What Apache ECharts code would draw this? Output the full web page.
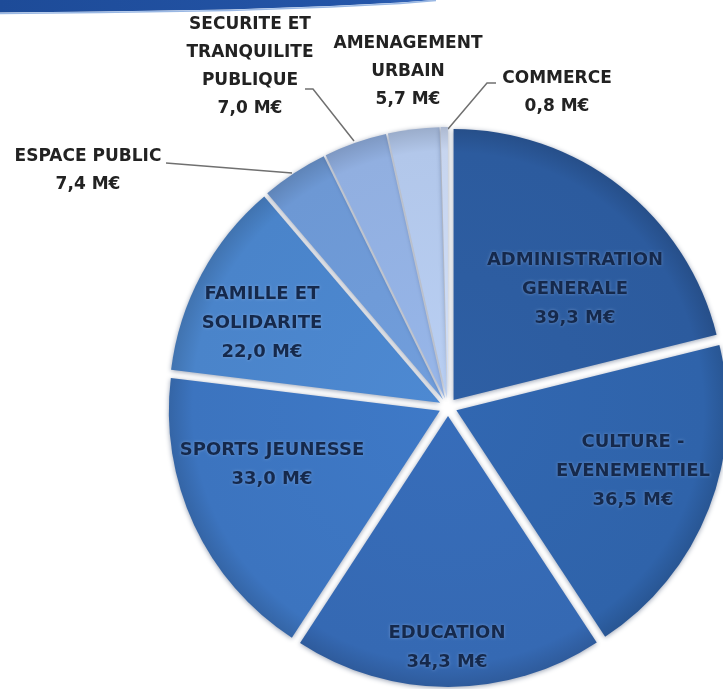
<!DOCTYPE html>
<html>
<head>
<meta charset="utf-8">
<script src="https://cdn.jsdelivr.net/npm/echarts@6/dist/echarts.min.js"></script>
<style>
  html, body { margin: 0; padding: 0; background: #ffffff; }
  #chart { width: 723px; height: 689px; }
</style>
</head>
<body>
<div id="chart"></div>
<script>
// Budget by sector (M€)
const categories = [
  'ADMINISTRATION GENERALE',
  'CULTURE - EVENEMENTIEL',
  'EDUCATION',
  'SPORTS JEUNESSE',
  'FAMILLE ET SOLIDARITE',
  'ESPACE PUBLIC',
  'SECURITE ET TRANQUILITE PUBLIQUE',
  'AMENAGEMENT URBAIN',
  'COMMERCE'
];
// label text with its line breaks
const labelNames = [
  'ADMINISTRATION\nGENERALE',
  'CULTURE -\nEVENEMENTIEL',
  'EDUCATION',
  'SPORTS JEUNESSE',
  'FAMILLE ET\nSOLIDARITE',
  'ESPACE PUBLIC',
  'SECURITE ET\nTRANQUILITE\nPUBLIQUE',
  'AMENAGEMENT\nURBAIN',
  'COMMERCE'
];
const values = [39.3, 36.5, 34.3, 33.0, 22.0, 7.4, 7.0, 5.7, 0.8];
const sliceColors = [
  '#2c5b9e', '#2f63aa', '#3569b3', '#3c74bf', '#4a84ca',
  '#6d98d4', '#91afe0', '#b2c7ea', '#c7d5ef'
];

const CX = 448, CY = 407, R = 271;
const INSIDE_COUNT = 5;

// label anchors (centre of each text block)
const labelAnchors = [
  [575, 289], [633, 471], [447, 648], [272, 465], [262, 323],
  [88, 171], [250, 67], [408, 72], [557, 93]
];
// leader lines: slice edge -> elbow -> label end
const leaderLines = {
  5: [[292, 173], [229, 168], [166, 163]],
  6: [[354, 141], [313, 89], [305, 89]],
  8: [[448, 129], [487, 83], [496, 83]]
};

function shade(hex, f) {
  const n = parseInt(hex.slice(1), 16);
  let r = (n >> 16) & 255, g = (n >> 8) & 255, b = n & 255;
  r = Math.round(r * f); g = Math.round(g * f); b = Math.round(b * f);
  const c = v => Math.max(0, Math.min(255, v)).toString(16).padStart(2, '0');
  return '#' + c(r) + c(g) + c(b);
}

function fmtValue(v) {
  return v.toFixed(1).replace('.', ',') + ' M€';
}

// exploded slices
const sliceData = values.map((v, i) => {
  const base = sliceColors[i];
  return {
    name: categories[i],
    value: v,
    selected: true,
    itemStyle: {
      color: {
        type: 'radial', x: CX, y: CY, r: R + 10, global: true,
        colorStops: [
          { offset: 0, color: shade(base, 1.04) },
          { offset: 0.88, color: base },
          { offset: 0.97, color: shade(base, 0.86) },
          { offset: 1, color: shade(base, 0.72) }
        ]
      }
    }
  };
});

// label carrier (same angles, no fill)
const labelData = values.map((v, i) => {
  const inside = i < INSIDE_COUNT;
  return {
    name: categories[i],
    value: v,
    label: inside ? {
      position: 'inside',
      color: '#15294c',
      fontSize: 18,
      lineHeight: 29,
      textShadowColor: 'rgba(170,195,235,0.5)',
      textShadowBlur: 3
    } : {
      position: 'outside',
      color: '#222222',
      fontSize: 17,
      lineHeight: 28
    },
    labelLine: { show: leaderLines[i] !== undefined }
  };
});

const chart = echarts.init(document.getElementById('chart'), null, { renderer: 'canvas' });

chart.setOption({
  animation: false,
  backgroundColor: '#ffffff',
  graphic: [
    {
      type: 'polygon',
      silent: true,
      shape: {
        points: [[0, 0], [436, 0], [400, 2.5], [330, 6], [230, 9.5], [100, 11.5], [0, 12.5]]
      },
      style: {
        fill: {
          type: 'linear', x: 0, y: 0, x2: 1, y2: 0,
          colorStops: [
            { offset: 0, color: '#1d4b98' },
            { offset: 0.85, color: '#2455a8' },
            { offset: 1, color: '#3a6cc0' }
          ]
        }
      }
    },
    {
      type: 'polyline',
      silent: true,
      shape: {
        points: [[0, 13.5], [100, 12.5], [230, 10.5], [330, 7], [400, 3.5], [436, 0.5]]
      },
      style: { stroke: '#9ab8e4', lineWidth: 1.5, fill: null }
    }
  ],
  series: [
    {
      type: 'pie',
      center: [CX, CY],
      radius: R,
      startAngle: 90,
      clockwise: true,
      selectedMode: 'multiple',
      selectedOffset: 9,
      silent: true,
      emphasis: { disabled: true },
      label: { show: false },
      labelLine: { show: false },
      itemStyle: {
        shadowBlur: 5,
        shadowColor: 'rgba(25,45,85,0.45)',
        shadowOffsetY: 1
      },
      data: sliceData
    },
    {
      type: 'pie',
      center: [CX, CY],
      radius: R,
      startAngle: 90,
      clockwise: true,
      silent: true,
      avoidLabelOverlap: false,
      emphasis: { disabled: true },
      itemStyle: { color: 'rgba(0,0,0,0)' },
      label: {
        fontFamily: '"DejaVu Sans", Verdana, sans-serif',
        fontWeight: 'bold',
        align: 'center',
        formatter: p => labelNames[p.dataIndex] + '\n' + fmtValue(p.value)
      },
      labelLine: {
        lineStyle: { color: '#707070', width: 1.5 },
        length: 10,
        length2: 10
      },
      labelLayout: function (params) {
        const i = params.dataIndex;
        const out = {
          x: labelAnchors[i][0],
          y: labelAnchors[i][1],
          align: 'center',
          verticalAlign: 'middle'
        };
        if (leaderLines[i]) out.labelLinePoints = leaderLines[i];
        return out;
      },
      data: labelData
    }
  ]
});
</script>
</body>
</html>
